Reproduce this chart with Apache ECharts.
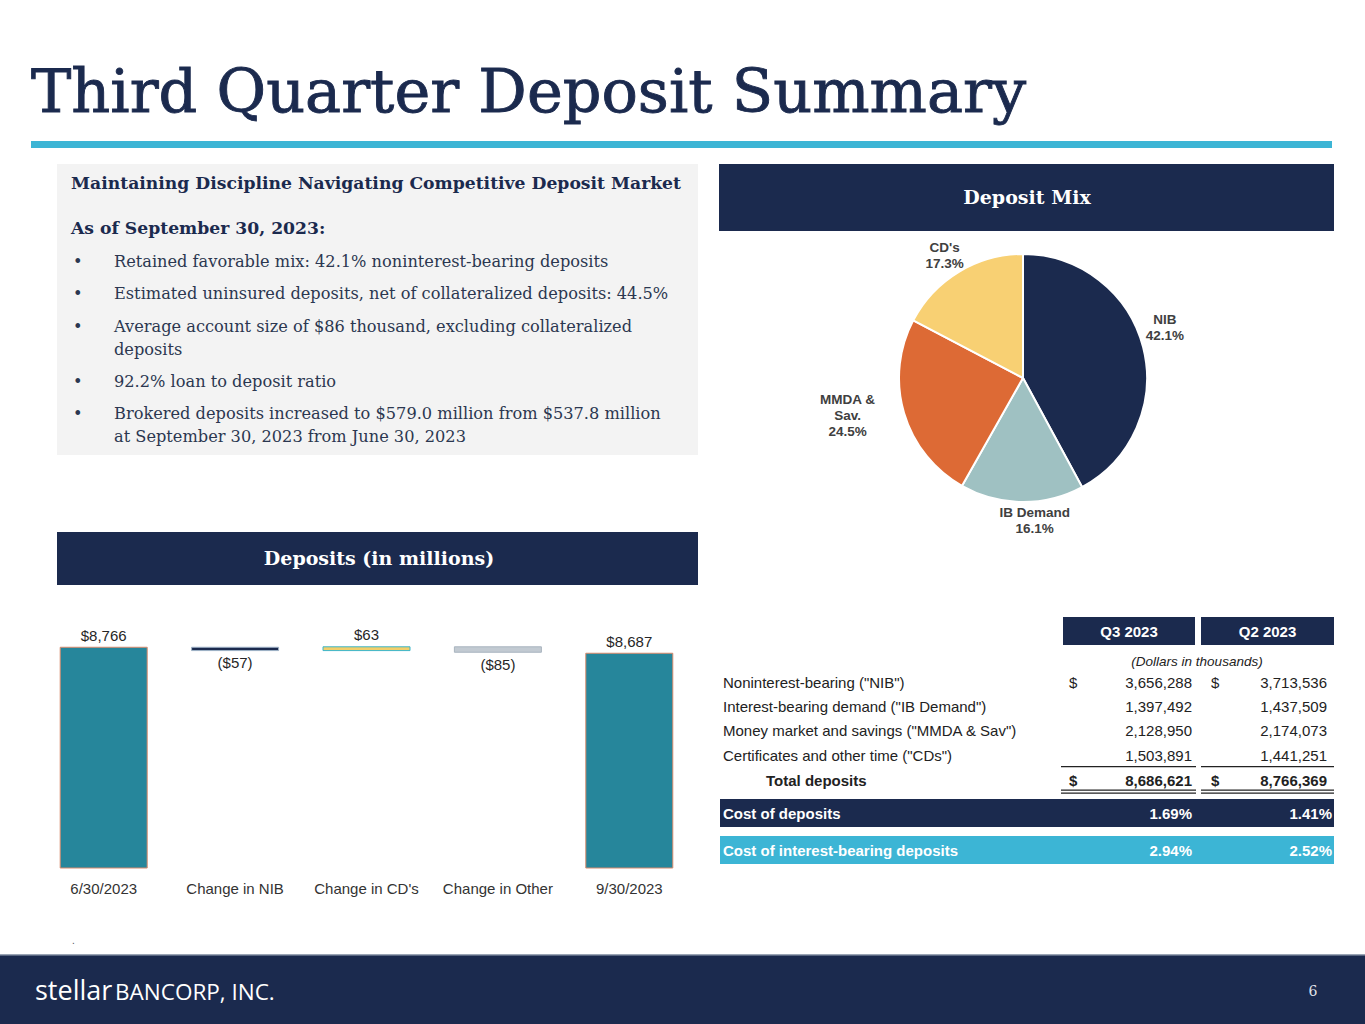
<!DOCTYPE html>
<html><head><meta charset="utf-8">
<script src="https://cdn.jsdelivr.net/npm/echarts@6/dist/echarts.min.js"></script>
<style>html,body{margin:0;padding:0;background:#fff}#c{width:1365px;height:1024px}</style>
</head><body><div id="c"></div><script>
// ---------- data ----------
const titleText = 'Third Quarter Deposit Summary';
const summaryHeading = 'Maintaining Discipline Navigating Competitive Deposit Market';
const asOfText = 'As of September 30, 2023:';
const bulletLines = [
  ['Retained favorable mix: 42.1% noninterest-bearing deposits'],
  ['Estimated uninsured deposits, net of collateralized deposits: 44.5%'],
  ['Average account size of $86 thousand, excluding collateralized', 'deposits'],
  ['92.2% loan to deposit ratio'],
  ['Brokered deposits increased to $579.0 million from $537.8 million', 'at September 30, 2023 from June 30, 2023']
];
const pieTitle = 'Deposit Mix';
const pieLabels = ['NIB', 'IB Demand', 'MMDA &\nSav.', "CD's"];
const pieValues = [42.1, 16.1, 24.5, 17.3];

const wfTitle = 'Deposits (in millions)';
const wfCategories = ['6/30/2023', 'Change in NIB', "Change in CD's", 'Change in Other', '9/30/2023'];
const wfValues = [8766, -57, 63, -85, 8687];
const wfIsTotal = [true, false, false, false, true];

const tableHeaders = ['Q3 2023', 'Q2 2023'];
const tableUnits = '(Dollars in thousands)';
const tableRows = ['Noninterest-bearing ("NIB")', 'Interest-bearing demand ("IB Demand")', 'Money market and savings ("MMDA & Sav")', 'Certificates and other time ("CDs")'];
const q3Values = [3656288, 1397492, 2128950, 1503891];
const q2Values = [3713536, 1437509, 2174073, 1441251];
const totalLabel = 'Total deposits';
const totalValues = [8686621, 8766369];
const costRows = ['Cost of deposits', 'Cost of interest-bearing deposits'];
const costQ3 = ['1.69%', '2.94%'];
const costQ2 = ['1.41%', '2.52%'];
const footerBrand = ['stellar', 'BANCORP, INC.'];
const pageNumber = '6';

// ---------- styles ----------
const NAVY = '#1b2a4e', CYAN = '#3cb5d5';
const SERIF = '"DejaVu Serif", serif';
const SANS = '"Liberation Sans", Arial, sans-serif';
const fmt = n => n.toLocaleString('en-US');

function T(x, y, text, font, fill, align, extra) {
  const st = { text: text, font: font, fill: fill, textAlign: align || 'left', align: align || 'left',
      textVerticalAlign: 'middle', verticalAlign: 'middle' };
  if (extra) Object.assign(st, extra);
  return { type: 'text', x: x, y: y, silent: true, style: st };
}
function R(x, y, w, h, fill) {
  return { type: 'rect', silent: true, shape: { x: x, y: y, width: w, height: h }, style: { fill: fill } };
}

const g = [];
// title + rule
g.push(T(31, 91, titleText, '60.5px ' + SERIF, NAVY, 'left', { stroke: NAVY, lineWidth: 0.9 }));
g.push(R(31, 141, 1301, 7, CYAN));
// summary box
g.push(R(57, 164, 641, 291, '#f3f3f3'));
g.push(T(71, 183, summaryHeading, 'bold 17.2px ' + SERIF, NAVY));
g.push(T(71, 228, asOfText, 'bold 17.2px ' + SERIF, NAVY));
const bulletY = [261, 293, 326, 381, 413];
const BODY = '16.2px ' + SERIF, BODYC = '#2b3750';
bulletLines.forEach((lines, i) => {
  g.push(T(73, bulletY[i], '•', BODY, BODYC));
  lines.forEach((ln, j) => g.push(T(114, bulletY[i] + j * 23, ln, BODY, BODYC)));
});
// section headers
g.push(R(719, 164, 615, 67, NAVY));
g.push(T(1027, 197, pieTitle, 'bold 19px ' + SERIF, '#fff', 'center'));
g.push(R(57, 532, 641, 53, NAVY));
g.push(T(379, 558, wfTitle, 'bold 19px ' + SERIF, '#fff', 'center'));
// table
const colQ3 = [1063, 1195], colQ2 = [1201, 1334];
g.push(R(colQ3[0], 617, colQ3[1] - colQ3[0], 28, NAVY));
g.push(R(colQ2[0], 617, colQ2[1] - colQ2[0], 28, NAVY));
g.push(T((colQ3[0] + colQ3[1]) / 2, 631, tableHeaders[0], 'bold 15px ' + SANS, '#fff', 'center'));
g.push(T((colQ2[0] + colQ2[1]) / 2, 631, tableHeaders[1], 'bold 15px ' + SANS, '#fff', 'center'));
g.push(T(1197, 661, tableUnits, 'italic 13.5px ' + SANS, '#222', 'center'));
const rowY = [682, 706, 730, 755];
tableRows.forEach((lab, i) => {
  g.push(T(723, rowY[i], lab, '15px ' + SANS, '#222'));
  if (i === 0) {
    g.push(T(1069, rowY[i], '$', '15px ' + SANS, '#222'));
    g.push(T(1211, rowY[i], '$', '15px ' + SANS, '#222'));
  }
  g.push(T(1192, rowY[i], fmt(q3Values[i]), '15px ' + SANS, '#222', 'right'));
  g.push(T(1327, rowY[i], fmt(q2Values[i]), '15px ' + SANS, '#222', 'right'));
});
g.push(R(1061, 766, 135, 1.3, '#222'));
g.push(R(1201, 766, 133, 1.3, '#222'));
g.push(T(766, 780, totalLabel, 'bold 15px ' + SANS, '#222'));
g.push(T(1069, 780, '$', 'bold 15px ' + SANS, '#222'));
g.push(T(1211, 780, '$', 'bold 15px ' + SANS, '#222'));
g.push(T(1192, 780, fmt(totalValues[0]), 'bold 15px ' + SANS, '#222', 'right'));
g.push(T(1327, 780, fmt(totalValues[1]), 'bold 15px ' + SANS, '#222', 'right'));
[789.5, 792.5].forEach(y => { g.push(R(1061, y, 135, 1.2, '#222')); g.push(R(1201, y, 133, 1.2, '#222')); });
const costY = [799, 836], costFill = [NAVY, CYAN];
costRows.forEach((lab, i) => {
  g.push(R(720, costY[i], 614, 28, costFill[i]));
  g.push(T(723, costY[i] + 14, lab, 'bold 15px ' + SANS, '#fff'));
  g.push(T(1192, costY[i] + 14, costQ3[i], 'bold 15px ' + SANS, '#fff', 'right'));
  g.push(T(1332, costY[i] + 14, costQ2[i], 'bold 15px ' + SANS, '#fff', 'right'));
});
// small dot
g.push(T(72, 940, '.', '10px ' + SANS, '#555'));
// footer
g.push(R(0, 955, 1365, 69, NAVY));
g.push(R(0, 954, 1365, 1.5, '#9aa4b4'));
g.push(T(35, 989, footerBrand[0], '27px "Open Sans", sans-serif', '#fff'));
g.push(T(115, 991, footerBrand[1], '22.5px "Open Sans", sans-serif', '#fff'));
g.push(T(1313, 991, pageNumber, '14px ' + SERIF, '#e0e4ea', 'center'));

// ---------- waterfall build ----------
const wfBase = [], wfHeight = [];
let run = 0;
wfValues.forEach((v, i) => {
  if (wfIsTotal[i]) { wfBase.push('-'); wfHeight.push(v); run = v; }
  else if (v < 0) { wfBase.push(run + v); wfHeight.push(-v); run += v; }
  else { wfBase.push(run); wfHeight.push(v); run += v; }
});
const wfStyles = [
  { color: '#26869b', borderColor: '#d98a6c', borderWidth: 1 },
  { color: '#1b2a4e', borderColor: '#9fb3c8', borderWidth: 1 },
  { color: '#f2cf6a', borderColor: '#3bb6c9', borderWidth: 1 },
  { color: '#c2cad2', borderColor: '#a9b4bf', borderWidth: 1 },
  { color: '#26869b', borderColor: '#d98a6c', borderWidth: 1 }
];
const wfData = wfHeight.map((h, i) => {
  const v = wfValues[i];
  const txt = wfIsTotal[i] ? '$' + fmt(v) : (v < 0 ? '($' + fmt(-v) + ')' : '$' + fmt(v));
  return { value: h, itemStyle: wfStyles[i],
    label: { show: true, position: v < 0 ? 'bottom' : 'top', distance: 4, formatter: txt,
      color: '#262626', fontSize: 15, fontFamily: SANS } };
});

const pieColors = ['#1b2a4e', '#9fc1c2', '#dd6a35', '#f8d073'];
const pieShift = [[3, -17], [18, 5], [-38, -1], [-2, -4]];

const chart = echarts.init(document.getElementById('c'), null, { renderer: 'svg', width: 1365, height: 1024 });
chart.setOption({
  animation: false,
  backgroundColor: '#fff',
  graphic: { elements: g },
  grid: { left: 38, right: 670, top: 629, bottom: 156 },
  xAxis: { type: 'category', data: wfCategories, axisLine: { show: false }, axisTick: { show: false },
    axisLabel: { color: '#333', fontSize: 15, fontFamily: SANS, margin: 13, interval: 0 } },
  yAxis: { type: 'value', min: 5850, max: 9000, show: false, splitLine: { show: false } },
  series: [
    { type: 'bar', stack: 'wf', data: wfBase, barWidth: 88, itemStyle: { color: 'transparent' }, silent: true },
    { type: 'bar', stack: 'wf', data: wfData, barWidth: 88 },
    { type: 'pie', center: [1023, 378], radius: 124, startAngle: 90, clockwise: true,
      data: pieLabels.map((n, i) => ({ name: n, value: pieValues[i], itemStyle: { color: pieColors[i] } })),
      itemStyle: { borderColor: '#fff', borderWidth: 2 },
      label: { show: true, position: 'outside', formatter: '{b}\n{c}%', color: '#404040',
        fontSize: 13.5, fontWeight: 'bold', fontFamily: SANS, lineHeight: 16 },
      labelLine: { show: false, length: 14, length2: 0 },
      labelLayout: p => ({ align: 'center', dx: pieShift[p.dataIndex][0], dy: pieShift[p.dataIndex][1] }),
      emphasis: { disabled: true } }
  ]
});
</script></body></html>
